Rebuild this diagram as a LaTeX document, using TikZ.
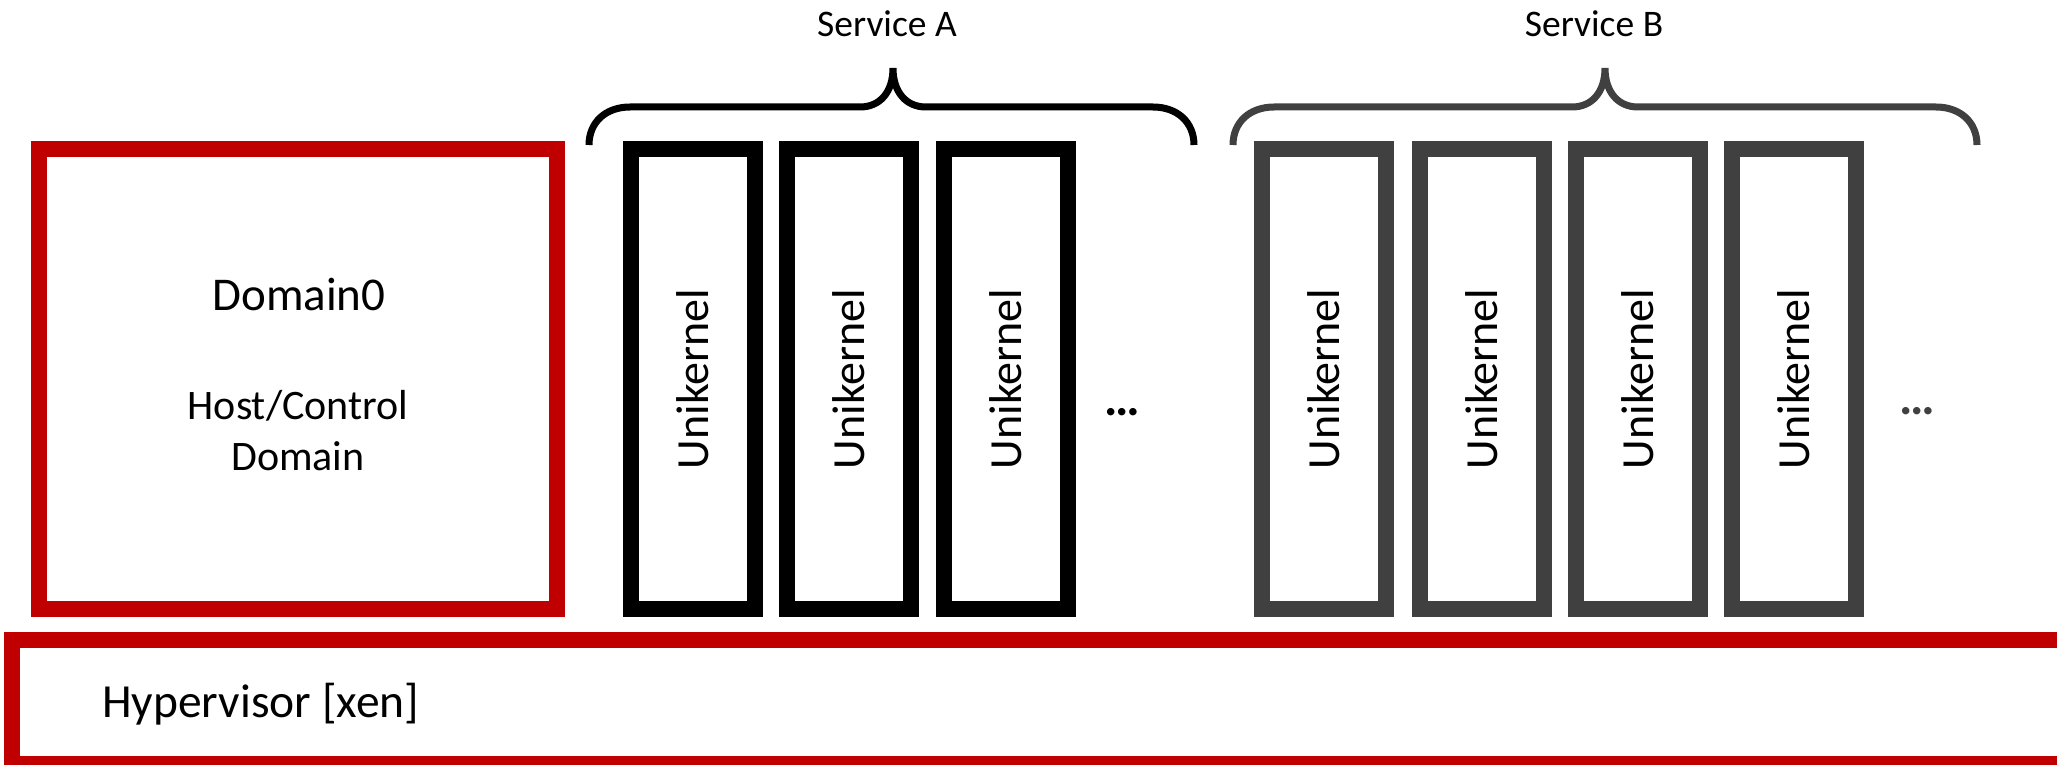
\documentclass[tikz,border=0pt]{standalone}
\usepackage{fontspec}
\setmainfont{Carlito}
\definecolor{xenred}{RGB}{192,0,0}
\definecolor{svcgray}{RGB}{64,64,64}
\tikzset{
  domainbox/.style={draw=xenred, line width=16pt, inner sep=0pt,
    minimum width=518pt, minimum height=460pt},
  ukbox/.style={draw=#1, line width=16pt, inner sep=0pt, rotate=90,
    minimum width=460pt, minimum height=124pt,
    font=\fontsize{46}{55}\selectfont},
  bracepath/.style={draw=#1, line width=7pt},
  svclabel/.style={anchor=base, inner sep=0pt, font=\fontsize{37.5}{45}\selectfont},
  dotslabel/.style={inner sep=0pt, text=#1, font=\fontsize{50}{60}\selectfont\bfseries},
}
\begin{document}
\begin{tikzpicture}[x=1pt, y=-1pt]
  \useasboundingbox (0,0) rectangle (2057,765);

  % hypervisor layer
  \draw[xenred, line width=16pt] (12,640) rectangle (2110,764);
  \node[anchor=base west, inner sep=0pt, font=\fontsize{47.5}{57}\selectfont]
    (hyp) at (102,717) {Hypervisor [xen]};

  % control domain
  \node[domainbox] (dom0) at (298,379) {};
  \node[anchor=base, inner sep=0pt, font=\fontsize{47}{56}\selectfont]
    (dom0name) at (299,310) {Domain0};
  \node[anchor=base, inner sep=0pt, font=\fontsize{42}{50}\selectfont]
    (dom0role1) at (298,419) {Host/Control};
  \node[anchor=base, inner sep=0pt, font=\fontsize{42}{50}\selectfont]
    (dom0role2) at (298,470) {Domain};

  % service A unikernels
  \node[ukbox=black] (ua1) at (693,379) {Unikernel};
  \node[ukbox=black] (ua2) at (848.75,379) {Unikernel};
  \node[ukbox=black] (ua3) at (1006,379) {Unikernel};
  \node[dotslabel=black] (adots) at (1122.5,412) {…};

  % service B unikernels
  \node[ukbox=svcgray] (ub1) at (1323.5,379) {Unikernel};
  \node[ukbox=svcgray] (ub2) at (1482,379) {Unikernel};
  \node[ukbox=svcgray] (ub3) at (1638,379) {Unikernel};
  \node[ukbox=svcgray] (ub4) at (1793.5,379) {Unikernel};
  \node[dotslabel=svcgray] (bdots) at (1917,411) {…};

  % braces
  \path[bracepath=black]
    (589,145) .. controls (589,122) and (606,107) .. (630,107) -- (860,107)
      .. controls (880,107) and (893,92) .. (893,68)
    (893,68) .. controls (893,92) and (906,107) .. (926,107) -- (1153,107)
      .. controls (1177,107) and (1194,122) .. (1194,145);
  \path[bracepath=svcgray]
    (1233,145) .. controls (1233,122) and (1250,107) .. (1274,107) -- (1572,107)
      .. controls (1592,107) and (1605,92) .. (1605,68)
    (1605,68) .. controls (1605,92) and (1618,107) .. (1638,107) -- (1936,107)
      .. controls (1960,107) and (1977,122) .. (1977,145);

  \node[svclabel] (svca) at (887,37) {Service A};
  \node[svclabel] (svcb) at (1594,37) {Service B};
\end{tikzpicture}
\end{document}
